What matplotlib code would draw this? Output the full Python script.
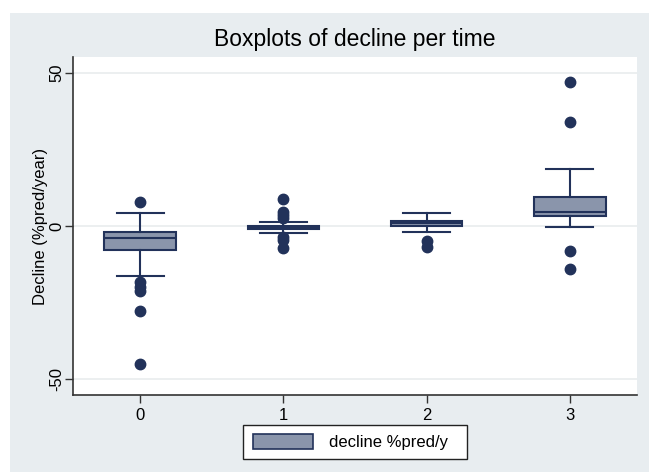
import matplotlib.pyplot as plt
from matplotlib.patches import Rectangle, Patch

plt.rcParams['font.family'] = ['Liberation Sans', 'DejaVu Sans']

# values (decline %pred/year)
groups = ['0', '1', '2', '3']
q1 = [-7.7, -0.9, 0.1, 3.3]
med = [-3.8, -0.3, 1.0, 4.7]
q3 = [-2.1, 0.1, 1.7, 9.4]
whislo = [-16.4, -2.4, -2.1, -0.4]
whishi = [4.1, 1.2, 4.1, 18.6]
fliers = [
    [7.7, -18.2, -19.8, -21.2, -27.7, -45.0],
    [8.7, 4.7, 3.6, 2.5, -3.5, -4.6, -7.3],
    [-4.9, -6.8],
    [47.0, 34.1, -8.2, -14.2],
]

box_fill = '#8a95ab'
navy = '#22325a'
bg = '#e8edf0'

stats = []
for i in range(len(groups)):
    stats.append(dict(label=groups[i], q1=q1[i], med=med[i], q3=q3[i],
                      whislo=whislo[i], whishi=whishi[i], fliers=fliers[i]))

fig = plt.figure(figsize=(6.49, 4.72), dpi=100)
fig.patch.set_facecolor('white')
fig.patches.append(Rectangle((10 / 649, 0), 1, 1 - 13 / 472, transform=fig.transFigure,
                             facecolor=bg, edgecolor='none', zorder=-10))

ax = fig.add_axes([73 / 649, 1 - 395 / 472, (637 - 73) / 649, (395 - 57) / 472])
ax.set_facecolor('white')

ax.bxp(stats, positions=range(len(groups)), widths=0.5, patch_artist=True,
       boxprops=dict(facecolor=box_fill, edgecolor=navy, linewidth=1.5),
       medianprops=dict(color=navy, linewidth=1.5),
       whiskerprops=dict(color=navy, linewidth=1.5),
       capprops=dict(color=navy, linewidth=1.5),
       capwidths=0.33,
       flierprops=dict(marker='o', markerfacecolor=navy, markeredgecolor=navy, markersize=7.5),
       zorder=3)

ax.set_xlim(-0.47, 3.47)
ax.set_ylim(-55.2, 55.2)
ax.set_yticks([-50, 0, 50])
ax.set_yticklabels(['-50', '0', '50'], rotation=90, va='center', fontsize=12)
ax.set_xticks(range(len(groups)))
ax.set_xticklabels(groups, fontsize=12)
ax.tick_params(axis='both', direction='out', length=6, width=1, color='#333333', pad=3)
ax.tick_params(axis='y', pad=0.5)
ax.yaxis.grid(True, color='#e9ecee', linewidth=1.2, zorder=0)
ax.set_axisbelow(True)

for s in ['top', 'right']:
    ax.spines[s].set_visible(False)
for s in ['left', 'bottom']:
    ax.spines[s].set_color('#333333')
    ax.spines[s].set_linewidth(1.2)

ax.set_ylabel('Decline (%pred/year)', fontsize=12, labelpad=1)
ax.set_title('Boxplots of decline per time', fontsize=16.5, pad=8)

handle = Patch(facecolor=box_fill, edgecolor=navy, linewidth=1.2)
leg = fig.legend([handle], ['decline %pred/y  '], loc='center',
                 bbox_to_anchor=(355 / 649, 1 - 442 / 472), fontsize=12,
                 handlelength=3.6, handleheight=1.0, handletextpad=1.0,
                 borderpad=0.55, fancybox=False, framealpha=1)
leg.get_frame().set_edgecolor('#222222')
leg.get_frame().set_linewidth(1.0)

fig.savefig('out.png', dpi=100)
